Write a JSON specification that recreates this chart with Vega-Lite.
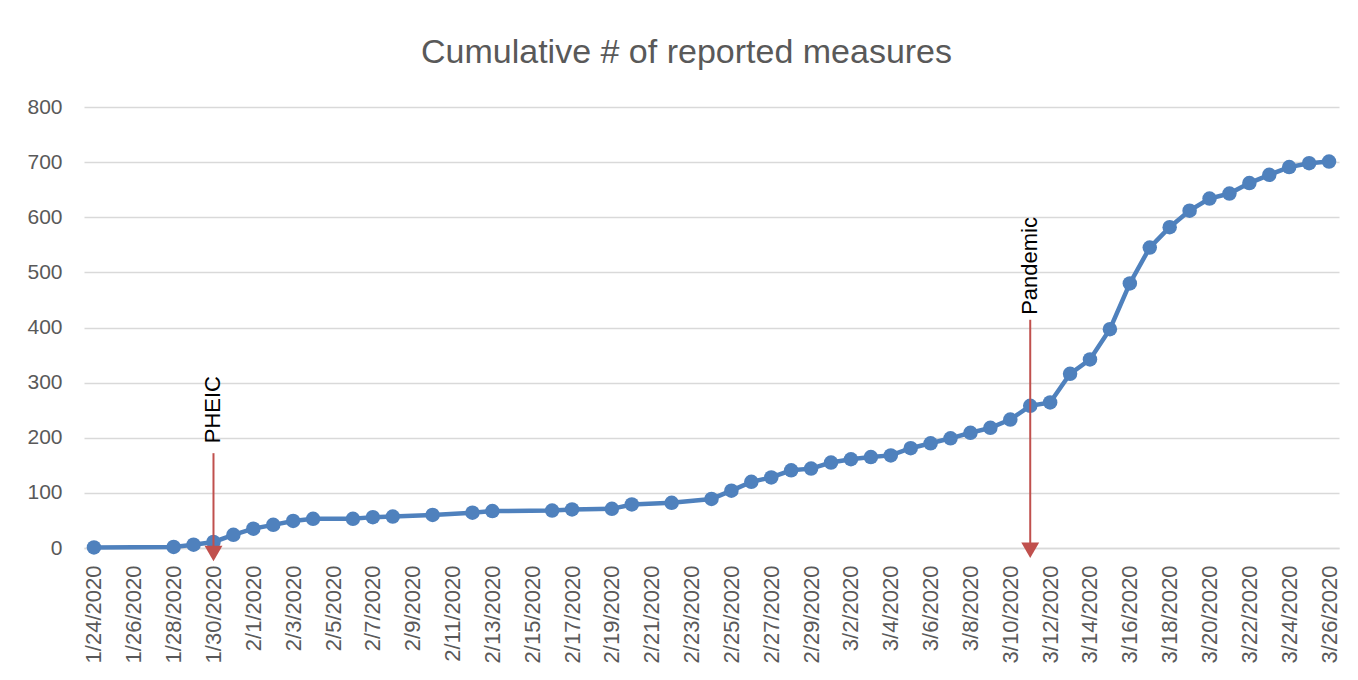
{
  "$schema": "https://vega.github.io/schema/vega-lite/v6.json",
  "autosize": {"type": "none"},
  "width": 1255,
  "height": 441,
  "padding": {"left": 84, "top": 107, "right": 19, "bottom": 132},
  "background": "white",
  "title": {
    "text": "Cumulative # of reported measures",
    "font": "Liberation Sans",
    "fontSize": 34,
    "fontWeight": "normal",
    "color": "#595959",
    "anchor": "middle",
    "frame": "group",
    "dx": -25,
    "offset": 26
  },
  "config": {
    "view": {"stroke": null},
    "axis": {
      "labelFont": "Liberation Sans",
      "labelFontSize": 21,
      "labelColor": "#595959",
      "gridColor": "#D9D9D9",
      "gridWidth": 1.5,
      "domainColor": "#D9D9D9",
      "domainWidth": 1.5,
      "ticks": false,
      "title": null
    }
  },
  "datasets": {
    "measures": [
      {"date": "2020-01-24", "value": 1},
      {"date": "2020-01-28", "value": 2},
      {"date": "2020-01-29", "value": 6},
      {"date": "2020-01-30", "value": 11},
      {"date": "2020-01-31", "value": 24},
      {"date": "2020-02-01", "value": 35},
      {"date": "2020-02-02", "value": 42},
      {"date": "2020-02-03", "value": 49},
      {"date": "2020-02-04", "value": 53},
      {"date": "2020-02-06", "value": 53},
      {"date": "2020-02-07", "value": 56},
      {"date": "2020-02-08", "value": 57},
      {"date": "2020-02-10", "value": 60},
      {"date": "2020-02-12", "value": 64},
      {"date": "2020-02-13", "value": 67},
      {"date": "2020-02-16", "value": 68},
      {"date": "2020-02-17", "value": 70},
      {"date": "2020-02-19", "value": 71},
      {"date": "2020-02-20", "value": 79},
      {"date": "2020-02-22", "value": 82},
      {"date": "2020-02-24", "value": 89},
      {"date": "2020-02-25", "value": 104},
      {"date": "2020-02-26", "value": 120},
      {"date": "2020-02-27", "value": 128},
      {"date": "2020-02-28", "value": 141},
      {"date": "2020-02-29", "value": 144},
      {"date": "2020-03-01", "value": 155},
      {"date": "2020-03-02", "value": 161},
      {"date": "2020-03-03", "value": 165},
      {"date": "2020-03-04", "value": 168},
      {"date": "2020-03-05", "value": 181},
      {"date": "2020-03-06", "value": 190},
      {"date": "2020-03-07", "value": 199},
      {"date": "2020-03-08", "value": 209},
      {"date": "2020-03-09", "value": 218},
      {"date": "2020-03-10", "value": 233},
      {"date": "2020-03-11", "value": 258},
      {"date": "2020-03-12", "value": 264},
      {"date": "2020-03-13", "value": 316},
      {"date": "2020-03-14", "value": 342},
      {"date": "2020-03-15", "value": 397},
      {"date": "2020-03-16", "value": 480},
      {"date": "2020-03-17", "value": 545},
      {"date": "2020-03-18", "value": 582},
      {"date": "2020-03-19", "value": 612},
      {"date": "2020-03-20", "value": 634},
      {"date": "2020-03-21", "value": 643},
      {"date": "2020-03-22", "value": 662},
      {"date": "2020-03-23", "value": 677},
      {"date": "2020-03-24", "value": 691},
      {"date": "2020-03-25", "value": 698},
      {"date": "2020-03-26", "value": 701}
    ],
    "events": [
      {"date": "2020-01-30", "label": "PHEIC", "labelAt": 190, "top": 172, "tip": -18, "head": -10},
      {"date": "2020-03-11", "label": "Pandemic", "labelAt": 423, "top": 414, "tip": -12, "head": -4}
    ]
  },
  "encoding": {
    "x": {
      "field": "date",
      "type": "temporal",
      "scale": {
        "type": "utc",
        "nice": false,
        "domain": [
          {"year": 2020, "month": 1, "date": 23, "hours": 12, "utc": true},
          {"year": 2020, "month": 3, "date": 26, "hours": 12, "utc": true}
        ]
      },
      "axis": {
        "labelExpr": "utcFormat(datum.value, '%-m/%-d/%Y')",
        "labelAngle": -90,
        "labelFontSize": 22,
        "labelPadding": 17,
        "labelOverlap": false,
        "labelFlush": false,
        "grid": false,
        "values": [
          {"year": 2020, "month": 1, "date": 24, "utc": true},
          {"year": 2020, "month": 1, "date": 26, "utc": true},
          {"year": 2020, "month": 1, "date": 28, "utc": true},
          {"year": 2020, "month": 1, "date": 30, "utc": true},
          {"year": 2020, "month": 2, "date": 1, "utc": true},
          {"year": 2020, "month": 2, "date": 3, "utc": true},
          {"year": 2020, "month": 2, "date": 5, "utc": true},
          {"year": 2020, "month": 2, "date": 7, "utc": true},
          {"year": 2020, "month": 2, "date": 9, "utc": true},
          {"year": 2020, "month": 2, "date": 11, "utc": true},
          {"year": 2020, "month": 2, "date": 13, "utc": true},
          {"year": 2020, "month": 2, "date": 15, "utc": true},
          {"year": 2020, "month": 2, "date": 17, "utc": true},
          {"year": 2020, "month": 2, "date": 19, "utc": true},
          {"year": 2020, "month": 2, "date": 21, "utc": true},
          {"year": 2020, "month": 2, "date": 23, "utc": true},
          {"year": 2020, "month": 2, "date": 25, "utc": true},
          {"year": 2020, "month": 2, "date": 27, "utc": true},
          {"year": 2020, "month": 2, "date": 29, "utc": true},
          {"year": 2020, "month": 3, "date": 2, "utc": true},
          {"year": 2020, "month": 3, "date": 4, "utc": true},
          {"year": 2020, "month": 3, "date": 6, "utc": true},
          {"year": 2020, "month": 3, "date": 8, "utc": true},
          {"year": 2020, "month": 3, "date": 10, "utc": true},
          {"year": 2020, "month": 3, "date": 12, "utc": true},
          {"year": 2020, "month": 3, "date": 14, "utc": true},
          {"year": 2020, "month": 3, "date": 16, "utc": true},
          {"year": 2020, "month": 3, "date": 18, "utc": true},
          {"year": 2020, "month": 3, "date": 20, "utc": true},
          {"year": 2020, "month": 3, "date": 22, "utc": true},
          {"year": 2020, "month": 3, "date": 24, "utc": true},
          {"year": 2020, "month": 3, "date": 26, "utc": true}
        ]
      }
    }
  },
  "layer": [
    {
      "data": {"name": "measures"},
      "mark": {
        "type": "line",
        "color": "#4F81BD",
        "strokeWidth": 4.5,
        "point": {"filled": true, "size": 210, "color": "#4F81BD", "opacity": 1}
      },
      "encoding": {
        "y": {
          "field": "value",
          "type": "quantitative",
          "scale": {"domain": [0, 800], "nice": false},
          "axis": {
            "values": [0, 100, 200, 300, 400, 500, 600, 700, 800],
            "labelPadding": 22,
            "domain": false,
            "grid": true
          }
        }
      }
    },
    {
      "data": {"name": "events"},
      "mark": {"type": "rule", "color": "#C0504D", "strokeWidth": 2},
      "encoding": {
        "y": {"field": "top", "type": "quantitative"},
        "y2": {"field": "tip"}
      }
    },
    {
      "data": {"name": "events"},
      "mark": {"type": "point", "shape": "triangle-down", "filled": true, "color": "#C0504D", "size": 320, "opacity": 1},
      "encoding": {
        "y": {"field": "head", "type": "quantitative"}
      }
    },
    {
      "data": {"name": "events"},
      "mark": {"type": "text", "angle": 270, "align": "left", "baseline": "middle", "font": "Liberation Sans", "fontSize": 22, "color": "#000000"},
      "encoding": {
        "y": {"field": "labelAt", "type": "quantitative"},
        "text": {"field": "label"}
      }
    }
  ]
}
